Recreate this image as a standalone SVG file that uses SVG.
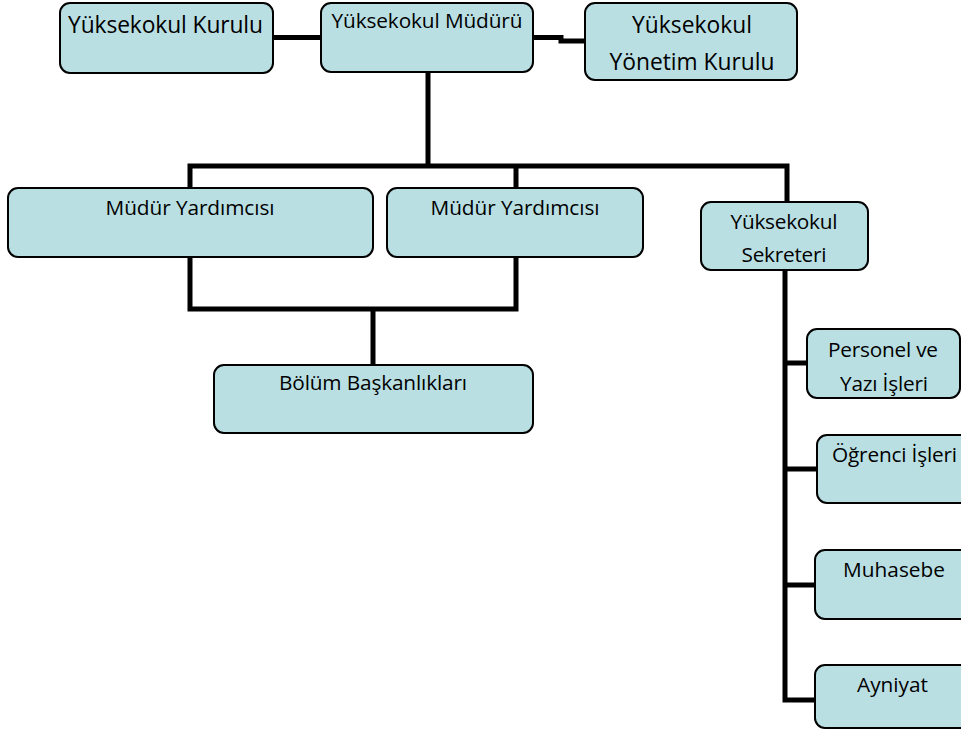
<svg xmlns="http://www.w3.org/2000/svg" width="961" height="730" viewBox="0 0 961 730">
<style>
.box{fill:#b9dfe3;stroke:#000;stroke-width:2}
.t{font-family:"Open Sans","Noto Sans","Liberation Sans",sans-serif;font-size:20.8px;fill:#000}
.big{font-size:22.8px}
.c{text-anchor:middle}
.conn{fill:none;stroke:#000;stroke-width:5}
</style>
<rect width="961" height="730" fill="#fff"/>
<g id="connectors">
<path class="conn" d="M272,37.5 H321"/>
<path class="conn" d="M533,37.5 H561 V41 H585"/>
<path class="conn" d="M428,72 V166"/>
<path class="conn" d="M190,188 V166 H787 V202"/>
<path class="conn" d="M516,166 V188"/>
<path class="conn" d="M190,257 V309 H516 V257"/>
<path class="conn" d="M373,309 V365"/>
<path class="conn" d="M785,270 V700 H815"/>
<path class="conn" d="M785,363 H807"/>
<path class="conn" d="M785,469 H817"/>
<path class="conn" d="M785,585 H815"/>
</g>
<g id="yuksekokul-kurulu">
<rect class="box" x="60" y="3" width="213" height="70" rx="10"/>
<text class="t big" x="68" y="33" textLength="195">Yüksekokul Kurulu</text>
</g>
<g id="yuksekokul-muduru">
<rect class="box" x="321" y="3" width="212" height="69" rx="10"/>
<text class="t c" x="427" y="28" textLength="191">Yüksekokul Müdürü</text>
</g>
<g id="yonetim-kurulu">
<rect class="box" x="585" y="3" width="212" height="77" rx="10"/>
<text class="t big c" x="692" y="33" textLength="120">Yüksekokul</text>
<text class="t big c" x="692" y="70" textLength="165">Yönetim Kurulu</text>
</g>
<g id="mudur-yardimcisi-1">
<rect class="box" x="8" y="188" width="365" height="69" rx="10"/>
<text class="t c" x="190" y="215" textLength="169">Müdür Yardımcısı</text>
</g>
<g id="mudur-yardimcisi-2">
<rect class="box" x="387" y="188" width="256" height="69" rx="10"/>
<text class="t c" x="515" y="215" textLength="169">Müdür Yardımcısı</text>
</g>
<g id="bolum-baskanliklari">
<rect class="box" x="214" y="365" width="319" height="68" rx="10"/>
<text class="t c" x="373" y="390" textLength="188">Bölüm Başkanlıkları</text>
</g>
<g id="sekreter">
<rect class="box" x="701" y="202" width="167" height="68" rx="10"/>
<text class="t c" x="784" y="229" textLength="107">Yüksekokul</text>
<text class="t c" x="784" y="262" textLength="85">Sekreteri</text>
</g>
<g id="personel">
<rect class="box" x="807" y="329" width="153" height="69" rx="10"/>
<text class="t c" x="883" y="357" textLength="110">Personel ve</text>
<text class="t c" x="884" y="391" textLength="88">Yazı İşleri</text>
</g>
<g id="ogrenci">
<rect class="box" x="817" y="435" width="160" height="68" rx="10"/>
<text class="t" x="832" y="462" textLength="125">Öğrenci İşleri</text>
</g>
<g id="muhasebe">
<rect class="box" x="815" y="550" width="160" height="69" rx="10"/>
<text class="t" x="843" y="577" textLength="102">Muhasebe</text>
</g>
<g id="ayniyat">
<rect class="box" x="815" y="665" width="160" height="63" rx="10"/>
<text class="t" x="857" y="692" textLength="71">Ayniyat</text>
</g>
</svg>
